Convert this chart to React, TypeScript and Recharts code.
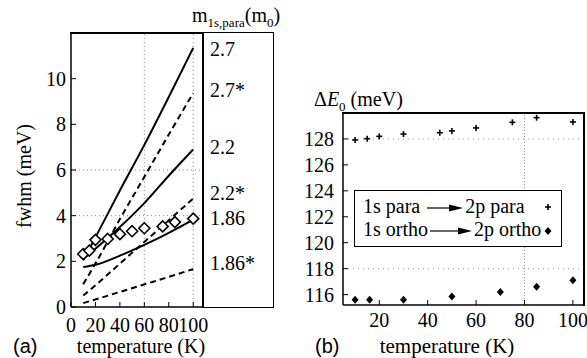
import { ComposedChart, Line, Scatter, XAxis, YAxis, ReferenceLine } from "recharts";

// panel (a): fwhm vs temperature, model curves for different masses
const fitTemps = [10, 20, 40, 60, 80, 100];
const fit27 = [2.05, 3.05, 5.1, 7.1, 9.2, 11.35];
const fit27s = [1.0, 1.9, 3.85, 5.7, 7.55, 9.37];
const fit22 = [2.1, 2.55, 3.5, 4.55, 5.75, 6.9];
const fit22s = [0.5, 0.95, 1.9, 2.85, 3.8, 4.75];
const fit186 = [1.75, 1.85, 2.25, 2.72, 3.25, 3.83];
const fit186s = [0.17, 0.33, 0.66, 0.99, 1.32, 1.66];

const measTemps = [10, 15, 20, 30, 40, 50, 60, 75, 85, 100];
const measFwhm = [2.32, 2.47, 2.94, 2.98, 3.19, 3.32, 3.45, 3.53, 3.72, 3.87];

const massLabels = ["2.7", "2.7*", "2.2", "2.2*", "1.86", "1.86*"];
const massLabelY = [49, 90, 147, 193, 218, 263];

const ticksA = [0, 20, 40, 60, 80, 100];
const yTicksA = [0, 2, 4, 6, 8, 10];

// panel (b): transition energies
const paraTemps = [10, 15, 20, 30, 45, 50, 60, 75, 85, 100];
const paraE = [127.92, 128.02, 128.2, 128.38, 128.48, 128.62, 128.85, 129.28, 129.64, 129.31];
const orthoTemps = [10, 16, 30, 50, 70, 85, 100];
const orthoE = [115.6, 115.6, 115.6, 115.85, 116.2, 116.6, 117.1];

const ticksB = [20, 40, 60, 80, 100];
const yTicksB = [116, 118, 120, 122, 124, 126, 128];

const toRows = (xs: number[], ys: number[]) => xs.map((x, i) => ({ x, y: ys[i] }));

const serif = "'Liberation Serif', 'Times New Roman', serif";
const sans = "'Liberation Sans', Arial, sans-serif";
const axisLine = { stroke: "#000", strokeWidth: 1.5 };
const tickLine = { stroke: "#000", strokeWidth: 1 };

const OpenDiamond = (p: any) => (
  <polygon
    points={`${p.cx},${p.cy - 5.5} ${p.cx + 5.5},${p.cy} ${p.cx},${p.cy + 5.5} ${p.cx - 5.5},${p.cy}`}
    fill="#fff"
    stroke="#000"
    strokeWidth={1.6}
  />
);

const FilledDiamond = (p: any) => (
  <polygon
    points={`${p.cx},${p.cy - 4} ${p.cx + 3.5},${p.cy} ${p.cx},${p.cy + 4} ${p.cx - 3.5},${p.cy}`}
    fill="#000"
  />
);

const Plus = (p: any) => (
  <g stroke="#000" strokeWidth={1.6}>
    <line x1={p.cx - 3} y1={p.cy} x2={p.cx + 3} y2={p.cy} />
    <line x1={p.cx} y1={p.cy - 3} x2={p.cx} y2={p.cy + 3} />
  </g>
);

const Arrow = ({ w }: { w: number }) => (
  <svg width={w} height={10} style={{ verticalAlign: "middle", margin: "0 2px" }}>
    <line x1={0} y1={5} x2={w - 10} y2={5} stroke="#000" strokeWidth={1.2} />
    <polygon points={`${w - 14},1.5 ${w},5 ${w - 14},8.5`} fill="#000" />
  </svg>
);

const curves = [
  { key: "2.7", ys: fit27, dash: undefined },
  { key: "2.7*", ys: fit27s, dash: "6 4" },
  { key: "2.2", ys: fit22, dash: undefined },
  { key: "2.2*", ys: fit22s, dash: "6 4" },
  { key: "1.86", ys: fit186, dash: undefined },
  { key: "1.86*", ys: fit186s, dash: "6 4" },
];

const abs = (left: number, top: number, extra: any = {}) => ({
  position: "absolute" as const,
  left,
  top,
  whiteSpace: "nowrap" as const,
  ...extra,
});

// top and right edges of a plot frame, drawn as thin filled bars above the chart
const frameEdges = (left: number, top: number, width: number, height: number) => (
  <>
    <div style={abs(left, top, { width, height: 2, background: "#000", zIndex: 10 })} />
    <div style={abs(left + width - 2, top, { width: 2, height, background: "#000", zIndex: 10 })} />
  </>
);

function PanelA() {
  return (
    <div style={abs(0, 0)}>
      <ComposedChart width={280} height={358} margin={{ top: 33, right: 77, bottom: 21, left: 0 }}>
        <XAxis
          dataKey="x"
          type="number"
          domain={[0, 108]}
          ticks={ticksA}
          interval={0}
          height={30}
          tickSize={-5}
          tickMargin={16}
          axisLine={axisLine}
          tickLine={tickLine}
          tick={{ fontFamily: serif, fontSize: 20, fill: "#000" }}
        />
        <YAxis
          type="number"
          domain={[0, 12]}
          ticks={yTicksA}
          interval={0}
          width={71}
          tickSize={-5}
          tickMargin={10}
          axisLine={axisLine}
          tickLine={tickLine}
          tick={{ fontFamily: serif, fontSize: 20, fill: "#000" }}
        />
        <ReferenceLine y={4} stroke="#888" strokeDasharray="1 3" />
        <ReferenceLine y={6} stroke="#888" strokeDasharray="1 3" />
        <ReferenceLine x={60} stroke="#888" strokeDasharray="1 3" />
        <ReferenceLine x={100} stroke="#888" strokeDasharray="1 3" />
        {curves.map((c) => (
          <Line
            key={c.key}
            data={toRows(fitTemps, c.ys)}
            dataKey="y"
            type="monotone"
            stroke="#000"
            strokeWidth={2}
            strokeDasharray={c.dash}
            dot={false}
            activeDot={false}
            isAnimationActive={false}
          />
        ))}
        <Scatter
          data={toRows(measTemps, measFwhm)}
          dataKey="y"
          shape={OpenDiamond}
          isAnimationActive={false}
        />
      </ComposedChart>

      {frameEdges(70, 32, 134, 276)}
      <div
        style={abs(203, 32, {
          width: 71,
          height: 276,
          border: "1.5px solid #000",
          boxSizing: "border-box",
        })}
      />
      {massLabels.map((m, i) => (
        <div key={m} style={abs(210, massLabelY[i] - 11, { fontFamily: serif, fontSize: 20, lineHeight: "22px" })}>
          {m}
        </div>
      ))}
      <div style={abs(192, 2, { fontFamily: serif, fontSize: 20, lineHeight: "26px" })}>
        m<sub style={{ fontSize: 13 }}>1s,para</sub>(m<sub style={{ fontSize: 13 }}>0</sub>)
      </div>
      <div
        style={abs(24, 176, {
          fontFamily: serif,
          fontSize: 20,
          transform: "translate(-50%, -50%) rotate(-90deg)",
        })}
      >
        fwhm (meV)
      </div>
      <div style={abs(13, 334, { fontFamily: sans, fontSize: 20, lineHeight: "24px" })}>(a)</div>
      <div style={abs(141, 334, { fontFamily: serif, fontSize: 20, lineHeight: "24px", transform: "translateX(-50%)" })}>
        temperature (K)
      </div>
    </div>
  );
}

function PanelB() {
  return (
    <div style={abs(290, 0)}>
      <ComposedChart width={297} height={358} margin={{ top: 113, right: 2, bottom: 23, left: 0 }}>
        <XAxis
          dataKey="x"
          type="number"
          domain={[5, 105]}
          ticks={ticksB}
          interval={0}
          height={30}
          tickSize={-5}
          tickMargin={13}
          axisLine={axisLine}
          tickLine={tickLine}
          tick={{ fontFamily: serif, fontSize: 20, fill: "#000" }}
        />
        <YAxis
          type="number"
          domain={[115.2, 130]}
          ticks={yTicksB}
          interval={0}
          width={53}
          tickSize={-5}
          tickMargin={14}
          axisLine={axisLine}
          tickLine={tickLine}
          tick={{ fontFamily: serif, fontSize: 20, fill: "#000" }}
        />
        <ReferenceLine y={118} stroke="#999" strokeDasharray="1 4" />
        <ReferenceLine y={128} stroke="#999" strokeDasharray="1 4" />
        <ReferenceLine x={80} stroke="#999" strokeDasharray="1 2" />
        <Scatter data={toRows(paraTemps, paraE)} dataKey="y" shape={Plus} isAnimationActive={false} />
        <Scatter data={toRows(orthoTemps, orthoE)} dataKey="y" shape={FilledDiamond} isAnimationActive={false} />
      </ComposedChart>

      {frameEdges(52, 112, 243, 194)}

      <div
        style={abs(64, 190, {
          width: 208,
          height: 57,
          border: "1.5px solid #000",
          boxSizing: "border-box",
          background: "#fff",
          fontFamily: serif,
          fontSize: 20,
        })}
      >
        <div style={abs(8, 4, { lineHeight: "22px" })}>
          1s para <Arrow w={36} />2p para
        </div>
        <div style={abs(8, 27, { lineHeight: "22px" })}>
          1s ortho<Arrow w={42} />2p ortho
        </div>
        <svg style={abs(185, 8)} width={16} height={40}>
          <Plus cx={8} cy={8} />
          <FilledDiamond cx={8} cy={32} />
        </svg>
      </div>

      <div style={abs(24, 86, { fontFamily: serif, fontSize: 20, lineHeight: "26px" })}>
        Δ<i>E</i><sub style={{ fontSize: 13 }}>0</sub> (meV)
      </div>
      <div style={abs(25, 334, { fontFamily: sans, fontSize: 20, lineHeight: "24px" })}>(b)</div>
      <div style={abs(157, 334, { fontFamily: serif, fontSize: 21, lineHeight: "24px", transform: "translateX(-50%)" })}>
        temperature (K)
      </div>
    </div>
  );
}

export default function App() {
  return (
    <div style={{ position: "absolute", left: 0, top: 0, width: 587, height: 358, background: "#fff", overflow: "hidden" }}>
      <PanelA />
      <PanelB />
    </div>
  );
}
